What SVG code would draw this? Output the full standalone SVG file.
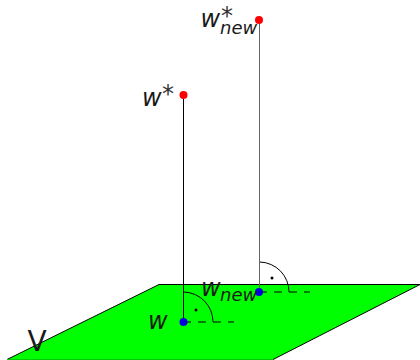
<svg xmlns="http://www.w3.org/2000/svg" width="420" height="360" viewBox="0 0 420 360">
<style>
.t{font-family:"DejaVu Sans",sans-serif;fill:#1a1a1a}
.i{font-style:italic}
.s{font-size:24px;font-style:normal;fill:#333}
.b{font-size:18px}
.n{fill:none;stroke:#000;stroke-width:1}
.d{fill:none;stroke:#000;stroke-width:1;stroke-dasharray:8 7}
</style>
<g id="plane">
<path d="M159 284.500H420L273 359.500H7Z" fill="#00ff00" stroke="#000" stroke-width="1"/>
<path d="M7 359.500H273" stroke="#00c800" stroke-width="1" fill="none"/>
<text class="t" x="27.500" y="351" font-size="28">V</text>
</g>
<g id="connectors">
<path d="M183.500 95V322" stroke="#000" stroke-width="1" fill="none"/>
<path d="M259.500 20V292" stroke="#666" stroke-width="1" fill="none"/>
<path class="d" d="M183 322H234"/>
<path class="d" d="M259 292H310"/>
<path class="n" d="M184 292A30 30 0 0 1 213 322"/>
<path class="n" d="M260 262A30 30 0 0 1 289 292"/>
<circle cx="196" cy="310" r="1.500"/>
<circle cx="272" cy="278" r="1.500"/>
</g>
<g id="w">
<circle cx="183.500" cy="322" r="4" fill="#0000e0"/>
<text class="t i" x="148" y="329" font-size="24">w</text>
</g>
<g id="wnew">
<circle cx="259" cy="292" r="4" fill="#0000e0"/>
<text class="t i" x="201" y="296" font-size="24">w<tspan class="b" x="220" y="301">new</tspan></text>
</g>
<g id="wstar">
<circle cx="183.500" cy="95" r="4" fill="#ff0000"/>
<text class="t i" x="142" y="106" font-size="24">w<tspan class="s" x="162" y="102">*</tspan></text>
</g>
<g id="wnewstar">
<circle cx="259" cy="20" r="4" fill="#ff0000"/>
<text class="t i" x="200.500" y="27" font-size="24">w<tspan class="s" x="221" y="24">*</tspan><tspan class="b" x="220" y="34">new</tspan></text>
</g>
</svg>
